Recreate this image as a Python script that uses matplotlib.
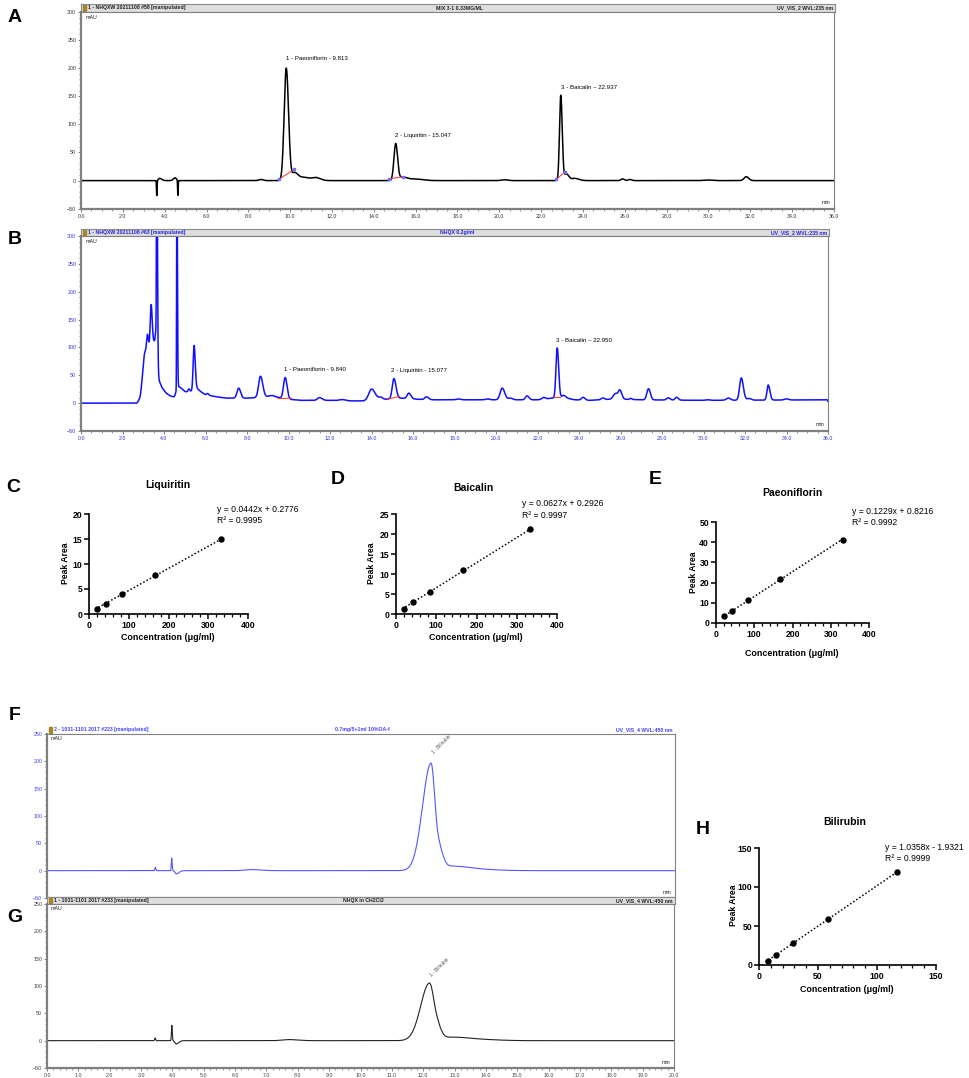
import numpy as np
import matplotlib
matplotlib.use("Agg")
import matplotlib.pyplot as plt
from matplotlib.ticker import MultipleLocator, FormatStrFormatter
from matplotlib.patches import Rectangle

plt.rcParams['font.family'] = ['Liberation Sans', 'DejaVu Sans']

# ---------------- DATA ----------------
# Calibration curves (C, D, E, H)
liq_conc = [20.8, 41.6, 83.3, 166.6, 333.3]
liq_area = [1.0, 2.07, 4.0, 7.8, 15.0]
liq_fit = (0.0442, 0.2776)
liq_eq = ["y = 0.0442x + 0.2776", "R² = 0.9995"]

bai_conc = [20.8, 41.6, 83.3, 166.6, 333.3]
bai_area = [1.33, 2.9, 5.6, 10.9, 21.2]
bai_fit = (0.0627, 0.2926)
bai_eq = ["y = 0.0627x + 0.2926", "R² = 0.9997"]

pae_conc = [20.9, 42.0, 83.3, 166.6, 333.3]
pae_area = [3.3, 5.9, 11.5, 22.0, 41.3]
pae_fit = (0.1229, 0.8216)
pae_eq = ["y = 0.1229x + 0.8216", "R² = 0.9992"]

bil_conc = [7.3, 14.6, 29.2, 58.4, 116.8]
bil_area = [5.6, 13.2, 28.3, 58.6, 119.0]
bil_fit = (1.0358, -1.9321)
bil_eq = ["y = 1.0358x - 1.9321", "R² = 0.9999"]

# Chromatogram A (MIX 3-1): peak table (retention time, height, left width, right width)
A_rt = [3.62, 3.76, 4.50, 4.63, 8.6, 9.813, 10.2, 10.6, 11.25, 15.047, 15.35, 15.9,
        20.25, 22.937, 23.2, 23.6, 25.9, 26.25, 30.0, 31.8]
A_h = [-27, 4, 5, -27, 2, 200, 12, 6, 4, 66, 6, 3, 1.5, 152, 12, 4, 3, 2, 1, 7]
A_wl = [0.012, 0.06, 0.08, 0.012, 0.1, 0.1, 0.1, 0.3, 0.15, 0.085, 0.1, 0.3,
        0.15, 0.06, 0.08, 0.15, 0.08, 0.08, 0.2, 0.1]
A_wr = [0.015, 0.1, 0.06, 0.015, 0.1, 0.11, 0.15, 0.4, 0.2, 0.09, 0.2, 0.4,
        0.15, 0.07, 0.12, 0.2, 0.08, 0.08, 0.2, 0.12]
A_labels = ["1 - Paeoniflorin - 9.813", "2 - Liquiritin - 15.047", "3 - Baicalin \u2013 22.937"]
A_label_x = [9.78, 15.0, 22.95]
A_label_y = [217, 80, 166]
A_integ = [(9.45, 2, 10.2, 20), (14.72, 3, 15.4, 7), (22.72, 2, 23.15, 16)]

# Chromatogram B (NHQX 0.2 g/ml): baseline knots + peak table
B_base_t = [0, 2.7, 2.85, 3.0, 3.15, 3.3, 3.5, 3.62, 3.75, 3.9, 4.1, 4.3, 4.5, 4.66, 4.8,
            5.0, 5.15, 5.35, 5.6, 5.8, 6.0, 6.3, 6.6, 7.0, 8.0, 9.0, 9.5, 10.0, 10.6,
            12.0, 13.0, 13.6, 14.3, 14.7, 15.4, 16.2, 17.0, 22.0, 22.7, 23.4, 23.8,
            24.5, 25.5, 26.2, 27.0, 30.0, 36.0]
B_base_y = [0, 0, 10, 60, 95, 105, 110, 115, 42, 28, 18, 13, 11, 30, 28,
            21, 20, 22, 26, 20, 15, 13, 11, 9, 9, 11, 10, 7, 5,
            5, 4, 4, 8, 7, 9, 7, 6, 6, 9, 9, 6,
            5, 7, 7, 6, 5, 6]
B_rt = [3.05, 3.2, 3.38, 3.6, 3.65, 4.62, 5.2, 5.45, 6.1, 7.6, 8.65, 9.2, 9.84, 11.5,
        12.6, 14.0, 14.45, 15.08, 15.8, 16.65, 18.2, 19.6, 20.3, 20.7, 21.5, 22.3,
        22.95, 23.25, 24.2, 25.15, 25.75, 25.97, 26.5, 27.35, 28.3, 28.7, 30.2, 31.2,
        31.82, 32.2, 33.12, 34.0]
B_h = [15, 25, 70, 15, 420, 420, 5, 80, 3, 18, 38, 3, 38, 5,
       2, 19, 3, 36, 10, 5, 1.5, 1.5, 21, 3, 7, 3,
       90, 5, 5, 3, 10, 16, 2, 20, 4, 5, 1, 4,
       40, 3, 27, 2]
B_wl = [0.05, 0.04, 0.04, 0.02, 0.015, 0.012, 0.04, 0.045, 0.05, 0.08, 0.09, 0.15, 0.08, 0.1,
        0.15, 0.13, 0.08, 0.08, 0.08, 0.08, 0.1, 0.1, 0.1, 0.1, 0.08, 0.08,
        0.06, 0.08, 0.08, 0.08, 0.1, 0.08, 0.05, 0.08, 0.08, 0.07, 0.1, 0.1,
        0.08, 0.1, 0.06, 0.1]
B_wr = [0.05, 0.04, 0.05, 0.02, 0.03, 0.025, 0.04, 0.055, 0.05, 0.09, 0.11, 0.15, 0.09, 0.12,
        0.15, 0.16, 0.08, 0.1, 0.1, 0.1, 0.1, 0.1, 0.12, 0.1, 0.09, 0.08,
        0.07, 0.1, 0.09, 0.08, 0.1, 0.09, 0.05, 0.09, 0.09, 0.08, 0.1, 0.1,
        0.1, 0.1, 0.08, 0.1]
B_labels = ["1 - Paeoniflorin - 9.840", "2 - Liquiritin - 15.077", "3 - Baicalin \u2013 22.950"]
B_label_x = [9.78, 14.92, 22.9]
B_label_y = [61, 58, 112]
B_integ = [(9.5, 8, 10.15, 9), (14.75, 7, 15.35, 12), (22.8, 11, 23.1, 11)]

# Chromatogram F (bilirubin standard) and G (NHQX in CH2Cl2)
F_rt = [3.45, 3.97, 4.12, 6.5, 12.23, 12.52, 12.9, 13.8]
F_h = [6, 23, -6, 2, 196, 28, 8, 2]
F_wl = [0.015, 0.012, 0.04, 0.2, 0.27, 0.08, 0.3, 0.5]
F_wr = [0.015, 0.015, 0.08, 0.3, 0.13, 0.12, 0.5, 0.6]
G_rt = [3.45, 3.98, 4.12, 7.7, 12.2, 12.5, 12.9, 13.8]
G_h = [5, 28, -6, 2, 105, 12, 6, 2]
G_wl = [0.015, 0.012, 0.04, 0.2, 0.28, 0.08, 0.3, 0.5]
G_wr = [0.015, 0.015, 0.08, 0.3, 0.16, 0.12, 0.5, 0.6]
F_label = ("1 - Bilirubin", 12.25, 212)
G_label = ("1 - Bilirubin", 12.2, 115)

# ---------------- FIGURE ----------------
W, H = 969, 1078
fig = plt.figure(figsize=(W / 100, H / 100), dpi=100)


def px_axes(l, t, r, b, **kw):
    return fig.add_axes([l / W, 1 - b / H, (r - l) / W, (b - t) / H], **kw)


def ftext(x, y, s, **kw):
    fig.text(x / W, 1 - y / H, s, **kw)


def trace(t, rt, h, wl, wr):
    y = np.zeros_like(t)
    for r, hh, a, b in zip(rt, h, wl, wr):
        s = np.where(t < r, a, b)
        y += hh * np.exp(-0.5 * ((t - r) / s) ** 2)
    return y


def header(l, t, r, b, left, cx, center, right, color, bar=True):
    hx = px_axes(l, t, r, b)
    hx.set_xlim(l, r)
    hx.set_ylim(b, t)
    hx.set_xticks([])
    hx.set_yticks([])
    if bar:
        hx.set_facecolor('#dedede')
        for s in hx.spines.values():
            s.set_color('#8c8c8c')
            s.set_linewidth(0.8)
    else:
        hx.set_facecolor('none')
        for s in hx.spines.values():
            s.set_visible(False)
    hx.add_patch(Rectangle((l + 1.5, t + 1), 3, b - t - 2, color='#a88420'))
    ym = (t + b) / 2
    hx.text(l + 7, ym, left, fontsize=3.7, color=color, va='center', ha='left', fontweight='bold')
    hx.text(cx, ym, center, fontsize=3.7, color=color, va='center', ha='center', fontweight='bold')
    hx.text(r - 2, ym, right, fontsize=3.7, color=color, va='center', ha='right', fontweight='bold')


def chrom_axes(l, t, r, b, xmax, xmaj, xmin_, ylo, yhi, lab_color, xlabels=True):
    ax = px_axes(l, t, r, b)
    ax.set_xlim(0, xmax)
    ax.set_ylim(ylo, yhi)
    ax.xaxis.set_major_locator(MultipleLocator(xmaj))
    ax.xaxis.set_minor_locator(MultipleLocator(xmin_))
    ax.yaxis.set_major_locator(MultipleLocator(50))
    ax.yaxis.set_minor_locator(MultipleLocator(10))
    ax.xaxis.set_major_formatter(FormatStrFormatter('%.1f'))
    ax.tick_params(which='both', direction='out', colors='#707070', labelsize=3.8,
                   labelcolor=lab_color)
    ax.tick_params(which='major', length=2.5, width=0.6, pad=1)
    ax.tick_params(which='minor', length=1.3, width=0.5)
    for s in ax.spines.values():
        s.set_color('#808080')
        s.set_linewidth(0.8)
    ax.spines['left'].set_linewidth(1.6)
    ax.spines['bottom'].set_linewidth(1.6)
    ax.text(0.006, 0.985, 'mAU', transform=ax.transAxes, fontsize=3.8, va='top', color='#202020')
    ax.text(0.995, 0.02, 'min', transform=ax.transAxes, fontsize=3.8, ha='right', va='bottom',
            color='#202020')
    if not xlabels:
        ax.tick_params(axis='x', labelbottom=False)
    return ax


# ----- Panel A -----
header(81, 4, 835, 12, "1 - NHQXW 20211108 #58 [manipulated]", 460, "MIX 3-1 0.33MG/ML",
       "UV_VIS_2 WVL:235 nm", '#202020')
axA = chrom_axes(81, 12, 834, 208.7, 36, 2, 0.5, -50, 300, '#303030')
tA = np.linspace(0, 36, 9000)
axA.plot(tA, trace(tA, A_rt, A_h, A_wl, A_wr), color='black', lw=1.1)
for (x0, y0, x1, y1) in A_integ:
    axA.plot([x0, x1], [y0, y1], color='#ff3030', lw=0.7)
    axA.plot([x0, x1], [y0, y1], ls='none', marker='s', ms=1.6, color='#7070ff')
for s, x, y in zip(A_labels, A_label_x, A_label_y):
    axA.text(x, y, s, fontsize=4.4, ha='left', va='center')

# ----- Panel B -----
header(81, 229, 829, 236, "1 - NHQXW 20211108 #63 [manipulated]", 457, "NHQX 0.2g/ml",
       "UV_VIS_2 WVL:235 nm", '#2020e0')
axB = chrom_axes(81, 236, 828, 431, 36, 2, 0.5, -50, 300, '#3030d0')
tB = np.linspace(0, 36, 12000)
yB = np.interp(tB, B_base_t, B_base_y)
yB = np.convolve(yB, np.ones(25) / 25, mode='same') + trace(tB, B_rt, B_h, B_wl, B_wr)
axB.plot(tB, yB, color='#1010ff', lw=1.1)
for (x0, y0, x1, y1) in B_integ:
    axB.plot([x0, x1], [y0, y1], color='#ff3030', lw=0.7)
for s, x, y in zip(B_labels, B_label_x, B_label_y):
    axB.text(x, y, s, fontsize=4.4, ha='left', va='center')

# ----- Calibration panels -----
def calib(l, t, r, b, xs, ys, fit, eq, xmax, ymax, ymaj, xmaj, xminor, title, title_xy,
          eq_xy, ylab_xy, xlab_xy):
    ax = px_axes(l, t, r, b)
    ax.set_xlim(0, xmax)
    ax.set_ylim(0, ymax)
    m, c = fit
    xf = np.array([min(xs) * 0.75, max(xs)])
    ax.plot(xf, m * xf + c, ls=(0, (1, 1.4)), color='black', lw=1.1, clip_on=False)
    ax.plot(xs, ys, 'o', ms=3.6, color='black', clip_on=False)
    for s in ['top', 'right']:
        ax.spines[s].set_visible(False)
    for s in ['left', 'bottom']:
        ax.spines[s].set_linewidth(1.2)
    ax.xaxis.set_major_locator(MultipleLocator(xmaj))
    ax.xaxis.set_minor_locator(MultipleLocator(xminor))
    ax.yaxis.set_major_locator(MultipleLocator(ymaj))
    ax.tick_params(which='major', length=3.5, width=1.1, labelsize=6.2, pad=1.5)
    ax.tick_params(which='minor', length=2, width=0.9)
    for lab in ax.get_xticklabels() + ax.get_yticklabels():
        lab.set_fontweight('bold')
    ftext(*title_xy, title, fontsize=7.5, fontweight='bold', ha='center', va='center')
    ftext(eq_xy[0], eq_xy[1], eq[0], fontsize=6.2, ha='left', va='center')
    ftext(eq_xy[0], eq_xy[1] + 11.5, eq[1], fontsize=6.2, ha='left', va='center')
    ftext(*ylab_xy, "Peak Area", fontsize=6.2, fontweight='bold', ha='center', va='center',
          rotation=90)
    ftext(*xlab_xy, "Concentration (\u03bcg/ml)", fontsize=6.4, fontweight='bold',
          ha='center', va='center')
    return ax


calib(89, 514, 248, 614, liq_conc, liq_area, liq_fit, liq_eq, 400, 20, 5, 100, 20,
      "Liquiritin", (168, 485), (217, 509), (65, 563), (168, 637))
calib(396, 514, 557, 614, bai_conc, bai_area, bai_fit, bai_eq, 400, 25, 5, 100, 20,
      "Baicalin", (473, 488), (522, 504), (372, 563), (476, 637))
calib(716, 522, 869, 623, pae_conc, pae_area, pae_fit, pae_eq, 400, 50, 10, 100, 20,
      "Paeoniflorin", (792, 493), (852, 511), (694, 572), (792, 653))
calib(759, 848, 936, 965, bil_conc, bil_area, bil_fit, bil_eq, 150, 150, 50, 50, 10,
      "Bilirubin", (845, 822), (885, 847), (733, 905), (847, 990))

# ----- Panel F -----
header(47, 726, 675, 734, "2 - 1031-1101 2017 #223 [manipulated]", 362, "0.7mg/5+1ml 10%OA-f",
       "UV_VIS_4 WVL:450 nm", '#4040ff', bar=False)
axF = chrom_axes(47, 734, 675, 898, 20, 1, 0.2, -50, 250, '#4040ff', xlabels=False)
tF = np.linspace(0, 20, 6000)
axF.plot(tF, trace(tF, F_rt, F_h, F_wl, F_wr), color='#5555ff', lw=0.8)
axF.text(F_label[1], F_label[2], F_label[0], fontsize=3.4, rotation=45, color='#505050',
         ha='left', va='bottom')

# ----- Panel G -----
header(47, 897, 675, 904, "1 - 1031-1101 2017 #233 [manipulated]", 363, "NHQX in CH2Cl2",
       "UV_VIS_4 WVL:450 nm", '#202020')
axG = chrom_axes(47, 904, 674, 1068, 20, 1, 0.2, -50, 250, '#404040')
tG = np.linspace(0, 20, 6000)
axG.plot(tG, trace(tG, G_rt, G_h, G_wl, G_wr), color='#222222', lw=0.8)
axG.text(G_label[1], G_label[2], G_label[0], fontsize=3.4, rotation=45, color='#505050',
         ha='left', va='bottom')

# ----- Panel letters -----
for letter, x, y in [("A", 15, 18), ("B", 15, 240), ("C", 13, 488), ("D", 338, 480),
                     ("E", 655, 480), ("F", 15, 715), ("G", 15, 917), ("H", 703, 830)]:
    ftext(x, y, letter, fontsize=14, fontweight='bold', ha='center', va='center')

fig.savefig("out.png", dpi=100)
